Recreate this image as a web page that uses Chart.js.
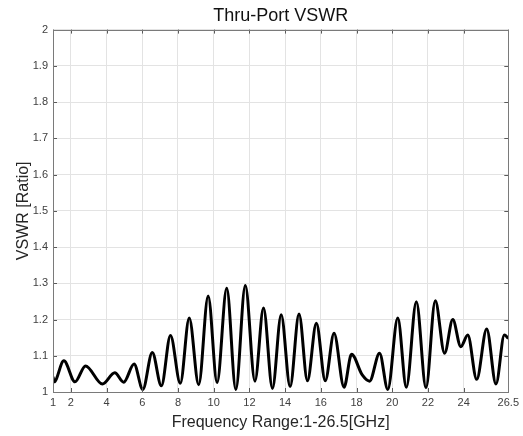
<!DOCTYPE html>
<html>
<head>
<meta charset="utf-8">
<script src="https://cdn.jsdelivr.net/npm/chart.js@4.4.0/dist/chart.umd.min.js"></script>
<style>
  html, body { margin: 0; padding: 0; background: #fff; }
  #wrap { width: 523px; height: 436px; position: relative; }
</style>
</head>
<body>
<div id="wrap"><canvas id="vswr_chart"></canvas></div>
<script>
// frequency (GHz) and VSWR read at the turning points of the curve
const freq_ghz = [1.0, 1.06, 1.61, 2.23, 2.82, 3.77, 4.46, 4.96, 5.54, 6.03,
    6.56, 7.07, 7.58, 8.13, 8.63, 9.16, 9.69, 10.19, 10.73, 11.24,
    11.77, 12.31, 12.79, 13.29, 13.78, 14.28, 14.78, 15.25, 15.75, 16.25,
    16.74, 17.3, 17.72, 18.32, 18.73, 19.29, 19.75, 20.31, 20.79, 21.35,
    21.89, 22.41, 22.93, 23.39, 23.84, 24.23, 24.73, 25.29, 25.81, 26.28, 26.5]
const vswr_ratio = [1.042, 1.028, 1.086, 1.028, 1.072, 1.022, 1.053, 1.027, 1.077, 1.007,
    1.109, 1.017, 1.156, 1.024, 1.204, 1.02, 1.265, 1.026, 1.286, 1.007,
    1.294, 1.03, 1.232, 1.01, 1.213, 1.015, 1.215, 1.031, 1.19, 1.031,
    1.162, 1.013, 1.104, 1.047, 1.03, 1.107, 1.007, 1.204, 1.013, 1.249,
    1.012, 1.252, 1.107, 1.2, 1.125, 1.157, 1.035, 1.174, 1.022, 1.157, 1.148]
const x_ticks = [1, 2, 4, 6, 8, 10, 12, 14, 16, 18, 20, 22, 24, 26.5]
const y_ticks = [1, 1.1, 1.2, 1.3, 1.4, 1.5, 1.6, 1.7, 1.8, 1.9, 2]

const font_family = '"Liberation Sans", Arial, sans-serif'

// matlab style box with small inward tick marks
const box_ticks = {
    id: 'box_ticks',
    afterDraw(chart) {
        const {ctx, chartArea: a, scales: {x, y}} = chart
        ctx.save()
        ctx.strokeStyle = '#5a5a5a'
        ctx.lineWidth = 1
        ctx.beginPath()
        x_ticks.forEach(v => {
            const px = Math.round(x.getPixelForValue(v)) + 0.5
            ctx.moveTo(px, a.bottom); ctx.lineTo(px, a.bottom - 4)
            ctx.moveTo(px, a.top); ctx.lineTo(px, a.top + 4)
        })
        y_ticks.forEach(v => {
            const py = Math.round(y.getPixelForValue(v)) + 0.5
            ctx.moveTo(a.left, py); ctx.lineTo(a.left + 4, py)
            ctx.moveTo(a.right, py); ctx.lineTo(a.right - 4, py)
        })
        ctx.stroke()
        ctx.strokeStyle = '#7a7a7a'
        ctx.strokeRect(Math.round(a.left) + 0.5, Math.round(a.top) + 0.5,
            Math.round(a.right - a.left), Math.round(a.bottom - a.top))
        ctx.restore()
    }
}

const config = {
    type: 'line',
    data: {
        datasets: [
            {
                label: 'VSWR',
                data: freq_ghz.map((f, i) => ({x: f, y: vswr_ratio[i]})),
                borderColor: '#000',
                borderWidth: 3,
                pointRadius: 0,
                cubicInterpolationMode: 'monotone',
                fill: false,
            }
        ]
    },
    options: {
        responsive: true,
        maintainAspectRatio: false,
        animation: false,
        layout: { padding: { left: 0, right: 13, top: 0, bottom: 0 } },
        plugins: {
            legend: { display: false },
            tooltip: { enabled: false },
            title: {
                display: true,
                fullSize: false, // center over the plot box, not the canvas
                text: 'Thru-Port VSWR',
                color: '#111',
                font: { family: font_family, size: 18, weight: 'normal' },
                padding: { top: 5, bottom: 3 },
            }
        },
        scales: {
            x: {
                type: 'linear',
                min: 1,
                max: 26.5,
                afterBuildTicks: (scale) => { scale.ticks = x_ticks.map(v => ({value: v})) },
                afterFit: (scale) => { scale.height = 44 },
                ticks: {
                    color: '#404040',
                    font: { family: font_family, size: 11 },
                    padding: 4,
                    maxRotation: 0,
                    autoSkip: false,
                    callback: (v) => String(v),
                },
                grid: { color: '#e3e3e3', lineWidth: 1, drawTicks: false },
                border: { display: false },
                title: {
                    display: true,
                    text: 'Frequency Range:1-26.5[GHz]',
                    color: '#262626',
                    font: { family: font_family, size: 16 },
                    padding: { top: 0, bottom: 4 },
                }
            },
            y: {
                type: 'linear',
                min: 1,
                max: 2,
                afterBuildTicks: (scale) => { scale.ticks = y_ticks.map(v => ({value: v})) },
                afterFit: (scale) => { scale.width = 53 },
                ticks: {
                    color: '#404040',
                    font: { family: font_family, size: 11 },
                    padding: 5,
                    autoSkip: false,
                    callback: (v) => String(Math.round(v * 10) / 10),
                },
                grid: { color: '#e3e3e3', lineWidth: 1, drawTicks: false },
                border: { display: false },
                title: {
                    display: true,
                    text: 'VSWR [Ratio]',
                    color: '#262626',
                    font: { family: font_family, size: 16 },
                    padding: { top: 14, bottom: 0 },
                }
            }
        }
    },
    plugins: [box_ticks]
}

new Chart(document.getElementById('vswr_chart'), config)
</script>
</body>
</html>
